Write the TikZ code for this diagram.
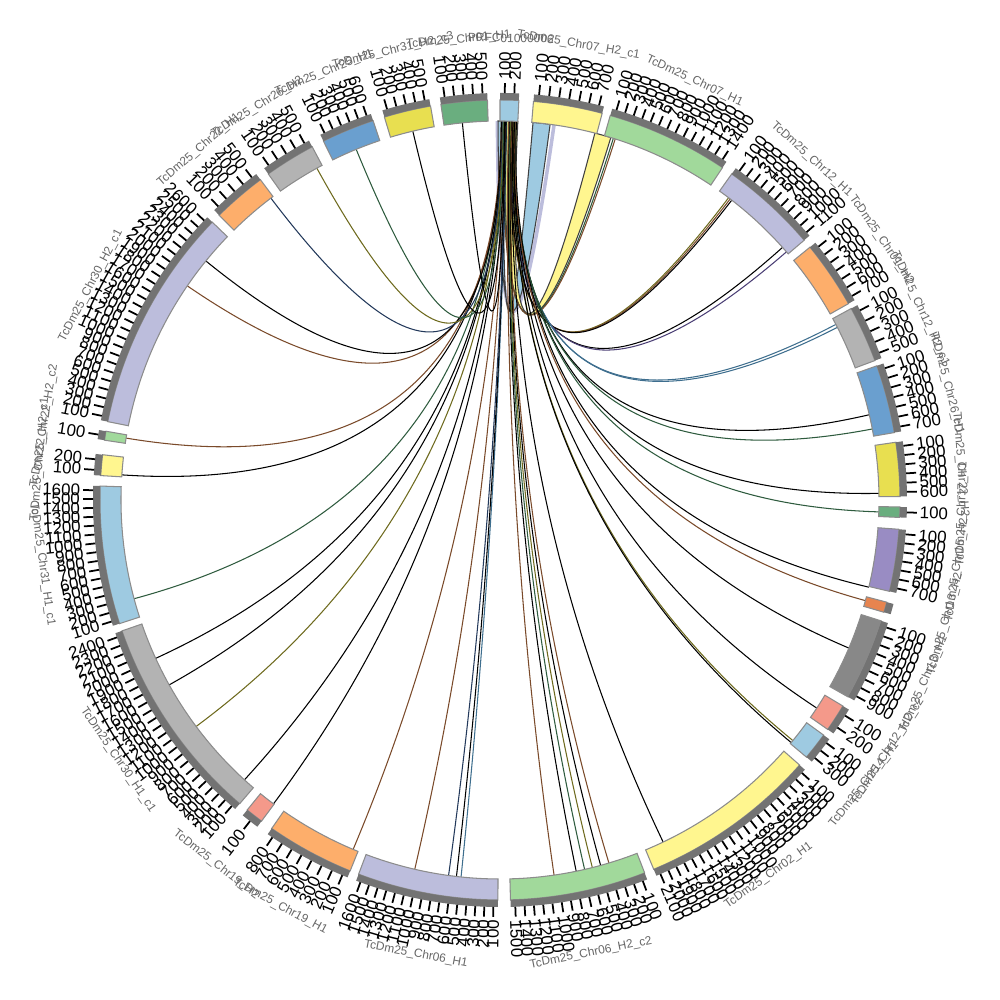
\documentclass[tikz,border=0pt]{standalone}
\usepackage{fontspec}
\setmainfont{Liberation Sans}
\usepackage{tikz}
\definecolor{blueL}{HTML}{9ECAE1}
\definecolor{yellowL}{HTML}{FFF68F}
\definecolor{greenL}{HTML}{A1D99B}
\definecolor{lavL}{HTML}{BCBDDC}
\definecolor{orangeL}{HTML}{FDAE6B}
\definecolor{grayL}{HTML}{B3B3B3}
\definecolor{blueM}{HTML}{6A9FCF}
\definecolor{yellowM}{HTML}{E8DF50}
\definecolor{greenM}{HTML}{6AAE7F}
\definecolor{purpleM}{HTML}{998CC3}
\definecolor{orangeM}{HTML}{E7844F}
\definecolor{grayM}{HTML}{888888}
\definecolor{salmonL}{HTML}{F4998A}
\definecolor{limeL}{HTML}{D9E27F}
\definecolor{stripgray}{HTML}{737373}
\definecolor{brownl}{HTML}{7A4A2A}
\definecolor{olivel}{HTML}{6E6A1E}
\definecolor{greenD}{HTML}{2E5B3E}
\definecolor{teall}{HTML}{3E6E8E}
\definecolor{navyl}{HTML}{23395B}
\definecolor{purplel}{HTML}{4B3F75}
\tikzset{
  blockfill/.style={draw=gray!90, line width=0.3pt},
  stripe/.style={fill=stripgray},
  tickmark/.style={line width=0.5pt},
  ticklab/.style={font=\fontsize{4.8}{5}\selectfont, inner sep=0.4pt},
  chrlab/.style={font=\fontsize{3.4}{4}\selectfont, text=black!60, inner sep=0pt},
  link/.style={line width=0.3pt},
  ribbon/.style={draw=black!75, line width=0.3pt}
}

\begin{document}
\begin{tikzpicture}
\useasboundingbox (-5,-5) rectangle (5,5);
\coordinate (o) at (0,0);

\draw[lavL, line width=1pt] (81.8:3.79) .. controls (81.8:1.263) and (90.4:1.263) .. (90.4:3.79);
\filldraw[ribbon, fill=blueL] (90.3:3.79) arc[start angle=90.3, end angle=89.4, radius=3.79]
  .. controls (89.4:1.263) and (85:1.263) .. (85:3.79) arc[start angle=85, end angle=82.4, radius=3.79]
  .. controls (82.4:1.263) and (90.3:1.263) .. (90.3:3.79) -- cycle;
\path[save path=\yrib] (89.3:3.79) arc[start angle=89.3, end angle=87.3, radius=3.79]
  .. controls (87.3:1.263) and (75.5:1.263) .. (75.5:3.79) arc[start angle=75.5, end angle=73, radius=3.79]
  .. controls (73:1.263) and (89.3:1.263) .. (89.3:3.79) -- cycle;
\fill[yellowL, use path=\yrib];
\begin{scope}
  \clip (-0.5,2.55) rectangle (0.22,4);
  \fill[limeL, use path=\yrib];
\end{scope}
\draw[ribbon, use path=\yrib];

\foreach \a/\b/\lc [count=\j] in {
  89.5/72.6/greenD, 89.6/72.3/brownl,
  88.6/52.9/olivel, 88.5/52.6/brownl, 88.4/52.3/black,
  88.3/41.8/black, 88.2/40.9/purplel,
  88.1/27.6/teall, 88.0/27.1/teall,
  87.9/13.0/black, 87.8/10.8/greenD,
  87.7/1.0/black, 87.6/-1.8/greenD,
  87.5/-13.3/black, 87.7/-15.4/brownl,
  87.8/-23.0/black, 87.9/-33.3/black,
  88.0/-39.4/olivel, 88.05/-39.8/black,
  88.1/-64.5/black,
  88.2/-73.3/brownl, 88.3/-74.6/black, 88.4/-75.9/olivel,
  88.5/-77.1/greenD, 88.6/-78.4/black, 88.7/-81.8/brownl,
  89.0/-95.9/teall, 89.05/-96.6/black, 89.1/-97.8/navyl, 89.2/-103.0/brownl,
  89.3/-112.8/brownl, 89.4/-126.7/black,
  89.5/-132.4/black, 89.5/-143.3/olivel, 89.6/-150.8/black, 89.6/-155.3/black,
  89.7/-164.9/greenD, 89.7/176.2/black, 89.8/170.6/brownl,
  89.8/145.6/brownl, 89.8/140.9/black,
  89.6/127.2/navyl, 89.5/118.9/olivel, 89.4/112.3/greenD,
  89.3/103.3/black, 89.2/95.7/black}{
  \coordinate (h\j) at (\a:3.79);
  \coordinate (q\j) at (\b:3.79);
  \draw[link,\lc] (h\j) .. controls (\a:1.263) and (\b:1.263) .. (q\j);
}

\foreach \s/\e/\c/\n/\lab [count=\i] in {
  90/87.3/blueL/2/PRFC01000006,
  85.2/75.2/yellowL/7/TcDm25\_Chr07\_H2\_c1,
  74.0/56.2/greenL/14/TcDm25\_Chr07\_H1,
  54.6/40.5/lavL/11/TcDm25\_Chr12\_H1,
  39.2/29.4/orangeL/7/TcDm25\_Chr01\_H2,
  28.6/20.4/grayL/5/TcDm25\_Chr12\_H2\_c1,
  19.6/9.7/blueM/7/TcDm25\_Chr26\_H1,
  8.3/0.5/yellowM/6/TcDm25\_Chr22\_H2,
  -1.0/-2.5/greenM/1/TcDm25\_Chr17\_H1,
  -4.2/-13.2/purpleM/7/TcDm25\_Chr15\_H2,
  -14.8/-16.3/orangeM/0/TcDm25\_Chr13\_H2,
  -17.6/-29.5/grayM/9/TcDm25\_Chr13\_H1,
  -31.0/-35.0/salmonL/2/TcDm25\_Chr12\_H2\_c2,
  -36.0/-40.0/blueL/3/TcDm25\_Chr14\_H1,
  -41.5/-67.4/yellowL/21/TcDm25\_Chr02\_H1,
  -68.8/-88.5/greenL/15/TcDm25\_Chr06\_H2\_c2,
  -90.3/-110.7/lavL/16/TcDm25\_Chr06\_H1,
  -112.0/-124.8/orangeL/8/TcDm25\_Chr19\_H1,
  -126.6/-129.2/salmonL/1/TcDm25\_Chr19\_H2,
  -130.6/-160.9/grayL/24/TcDm25\_Chr30\_H1\_c1,
  -162.0/-182.0/blueL/16/TcDm25\_Chr31\_H1\_c1,
  -183.5/-186.5/yellowL/2/TcDm25\_Chr22\_H2\_c1,
  -188.6/-189.9/greenL/1/TcDm25\_Chr22\_H2\_c2,
  -191.3/-224.0/lavL/26/TcDm25\_Chr30\_H2\_c1,
  -225.4/-233.2/orangeL/5/TcDm25\_Chr22\_H1,
  -234.6/-242.0/grayL/5/TcDm25\_Chr26\_H2,
  -243.8/-251.5/blueM/6/TcDm25\_Chr25\_H1,
  -253.2/-260.0/yellowM/5/TcDm25\_Chr31\_H2\_c3,
  -261.5/-268.2/greenM/5/TcDm25\_Chr01\_H1}{
  \filldraw[blockfill, fill=\c] (\s:3.79) arc[start angle=\s, end angle=\e, radius=3.79]
    -- (\e:4.0) arc[start angle=\e, end angle=\s, radius=4.0] -- cycle;
  \fill[stripe] (\s:4.0) arc[start angle=\s, end angle=\e, radius=4.0]
    -- (\e:4.07) arc[start angle=\e, end angle=\s, radius=4.07] -- cycle;
  \ifnum\n>0
  \foreach \k in {1,...,\n}{
    \pgfmathsetmacro\t{\s-(\k-0.5)*(\s-\e)/\n}
    \draw[tickmark] (\t:4.07) -- (\t:4.17);
    \pgfmathsetmacro\cs{cos(\t)}
    \ifdim\cs pt<0pt
      \node[ticklab, anchor=east, rotate=\t+180] (t\i-\k) at (\t:4.18) {\k00};
    \else
      \node[ticklab, anchor=west, rotate=\t] (t\i-\k) at (\t:4.18) {\k00};
    \fi
  }
  \fi
  \pgfmathsetmacro\m{(\s+\e)/2}
  \pgfmathsetmacro\sn{sin(\m)}
  \ifdim\sn pt<0pt
    \node[chrlab, rotate=\m+90] (c\i) at (\m:4.62) {\lab};
  \else
    \node[chrlab, rotate=\m-90] (c\i) at (\m:4.62) {\lab};
  \fi
}
\end{tikzpicture}
\end{document}
